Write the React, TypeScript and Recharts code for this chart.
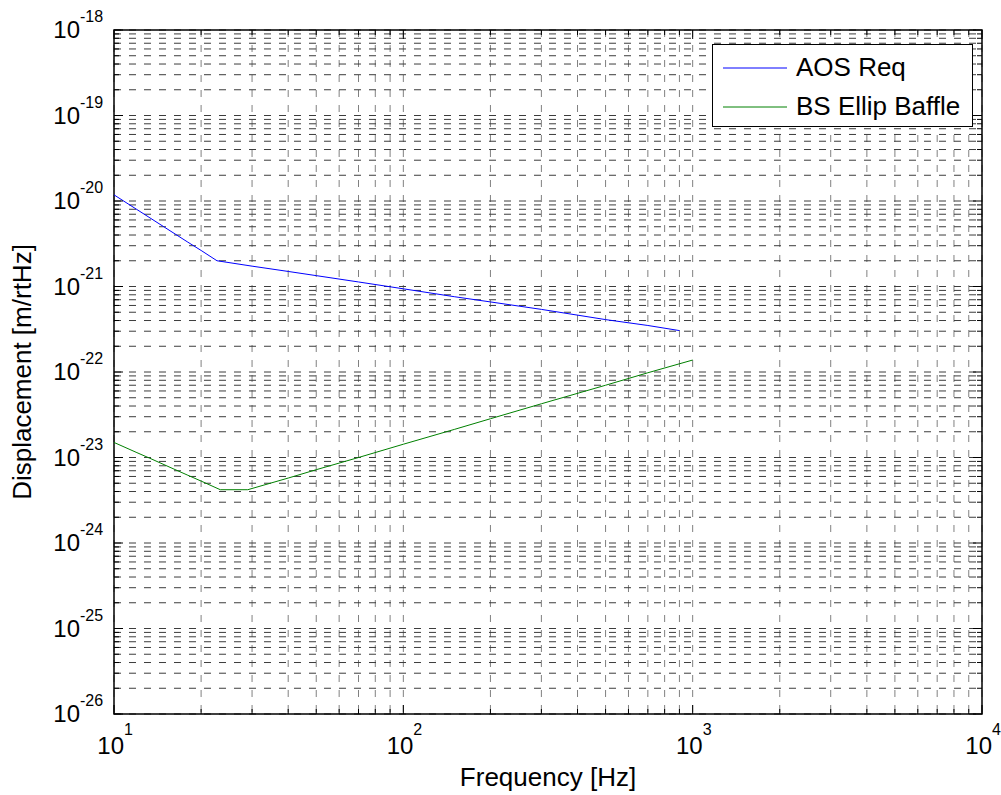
import React from 'react'
import {
  LineChart,
  Line,
  XAxis,
  YAxis,
  CartesianGrid,
  ReferenceArea,
  Legend,
  Customized,
} from 'recharts'

// AOS requirement curve
const AOS_FREQ = [10, 12, 15, 18, 20, 22.7, 30, 40, 50, 70, 100, 150, 200, 300, 500, 700, 900]
const AOS_DISP = [
  1.18e-20, 7.95e-21, 4.9e-21, 3.3e-21, 2.64e-21, 2.0e-21, 1.73e-21, 1.5e-21, 1.34e-21,
  1.13e-21, 9.4e-22, 7.6e-22, 6.6e-22, 5.4e-22, 4.1e-22, 3.5e-22, 3.05e-22,
]

// BS elliptical baffle curve
const BS_FREQ = [10, 12, 13.3, 16, 18, 20, 23.3, 29, 40, 50, 70, 100, 150, 200, 300, 500, 700, 1000]
const BS_DISP = [
  1.5e-23, 1.14e-23, 9.8e-24, 7.4e-24, 6.2e-24, 5.3e-24, 4.2e-24, 4.2e-24, 5.75e-24, 7.2e-24,
  1.0e-23, 1.43e-23, 2.13e-23, 2.84e-23, 4.25e-23, 7.0e-23, 9.8e-23, 1.38e-22,
]

const SERIES_NAMES = ['AOS Req', 'BS Ellip Baffle']
const SERIES_COLORS = ['#0000ff', '#008000']

// axis decades (exponents) and the mantissas used for minor ticks / grid
const X_EXPONENTS = [1, 2, 3, 4]
const Y_EXPONENTS = [-26, -25, -24, -23, -22, -21, -20, -19, -18]
const MANTISSAS = [1, 2, 3, 4, 5, 6, 7, 8, 9]

const X_LABEL = 'Frequency [Hz]'
const Y_LABEL = 'Displacement [m/rtHz]'

const CHART_W = 1001
const CHART_H = 795
const PLOT_LEFT = 114
const PLOT_RIGHT = 982
const PLOT_TOP = 30
const PLOT_BOTTOM = 714
const FONT = "'Liberation Sans', Arial, Helvetica, sans-serif"

function buildTicks(exps: number[]) {
  const out: number[] = []
  exps.forEach((e, i) => {
    if (i === exps.length - 1) {
      out.push(Number(`1e${e}`))
      return
    }
    for (const m of MANTISSAS) out.push(Number(`${m}e${e}`))
  })
  return out
}

const X_TICKS = buildTicks(X_EXPONENTS)
const Y_TICKS = buildTicks(Y_EXPONENTS)

const aosData = AOS_FREQ.map((f, i) => ({ f, d: AOS_DISP[i] }))
const bsData = BS_FREQ.map((f, i) => ({ f, d: BS_DISP[i] }))

function isMajor(v: number) {
  const l = Math.log10(v)
  return Math.abs(l - Math.round(l)) < 1e-9
}

function XTick(props: any) {
  const { x, payload } = props
  const v = payload.value
  const major = isMajor(v)
  const len = major ? 9 : 5
  const exp = Math.round(Math.log10(v))
  return (
    <g>
      <line x1={x} x2={x} y1={PLOT_BOTTOM} y2={PLOT_BOTTOM - len} stroke="#000" />
      <line x1={x} x2={x} y1={PLOT_TOP} y2={PLOT_TOP + len} stroke="#000" />
      {major && (
        <g fontFamily={FONT} fill="#000">
          <text x={x + 10} y={754} textAnchor="end" fontSize={24}>
            10
          </text>
          <text x={x + 10} y={735} textAnchor="start" fontSize={16}>
            {exp}
          </text>
        </g>
      )}
    </g>
  )
}

function YTick(props: any) {
  const { y, payload } = props
  const v = payload.value
  const major = isMajor(v)
  const len = major ? 9 : 5
  const exp = Math.round(Math.log10(v))
  return (
    <g>
      <line x1={PLOT_LEFT} x2={PLOT_LEFT + len} y1={y} y2={y} stroke="#000" />
      <line x1={PLOT_RIGHT} x2={PLOT_RIGHT - len} y1={y} y2={y} stroke="#000" />
      {major && (
        <g fontFamily={FONT} fill="#000">
          <text x={80} y={y + 8} textAnchor="end" fontSize={24}>
            10
          </text>
          <text x={80} y={y - 8} textAnchor="start" fontSize={16}>
            {exp}
          </text>
        </g>
      )}
    </g>
  )
}

function AxisTitles() {
  return (
    <g fontFamily={FONT} fill="#000" fontSize={26}>
      <text x={(PLOT_LEFT + PLOT_RIGHT) / 2} y={786} textAnchor="middle">
        {X_LABEL}
      </text>
      <text
        x={0}
        y={0}
        textAnchor="middle"
        transform={`translate(31, ${(PLOT_TOP + PLOT_BOTTOM) / 2}) rotate(-90)`}
      >
        {Y_LABEL}
      </text>
    </g>
  )
}

function LegendBox() {
  return (
    <div
      style={{
        width: 261,
        height: 83,
        boxSizing: 'border-box',
        border: '1px solid #000',
        background: '#fff',
        fontFamily: FONT,
        fontSize: 26,
        color: '#000',
        paddingTop: 3,
      }}
    >
      {SERIES_NAMES.map((name, i) => (
        <div
          key={name}
          style={{ display: 'flex', alignItems: 'center', height: 39, paddingLeft: 10 }}
        >
          <svg width={64} height={4} style={{ flexShrink: 0 }}>
            <line x1={0} x2={64} y1={2} y2={2} stroke={SERIES_COLORS[i]} strokeWidth={1} />
          </svg>
          <span style={{ marginLeft: 9, whiteSpace: 'nowrap' }}>{name}</span>
        </div>
      ))}
    </div>
  )
}

export default function App() {
  return (
    <div style={{ position: 'absolute', left: 0, top: 0, background: '#fff' }}>
      <LineChart
        width={CHART_W}
        height={CHART_H}
        margin={{ top: PLOT_TOP, right: CHART_W - PLOT_RIGHT, bottom: 0, left: 0 }}
      >
        <CartesianGrid
          horizontal={false}
          stroke="#808080"
          strokeDasharray="7 8"
        />
        <CartesianGrid
          vertical={false}
          stroke="#3c3c3c"
          strokeDasharray="7 8"
        />
        <XAxis
          dataKey="f"
          type="number"
          scale="log"
          domain={[10, 10000]}
          allowDataOverflow
          ticks={X_TICKS}
          interval={0}
          height={CHART_H - PLOT_BOTTOM}
          axisLine={false}
          tickLine={false}
          tick={(p: any) => <XTick {...p} />}
        />
        <YAxis
          type="number"
          scale="log"
          domain={[1e-26, 1e-18]}
          allowDataOverflow
          ticks={Y_TICKS}
          interval={0}
          width={PLOT_LEFT}
          axisLine={false}
          tickLine={false}
          tick={(p: any) => <YTick {...p} />}
        />
        <ReferenceArea
          x1={10}
          x2={10000}
          y1={1e-26}
          y2={1e-18}
          fill="none"
          fillOpacity={0}
          stroke="#000"
          strokeWidth={1.5}
          ifOverflow="visible"
        />
        <Line
          data={aosData}
          dataKey="d"
          name={SERIES_NAMES[0]}
          stroke={SERIES_COLORS[0]}
          strokeWidth={1}
          dot={false}
          isAnimationActive={false}
        />
        <Line
          data={bsData}
          dataKey="d"
          name={SERIES_NAMES[1]}
          stroke={SERIES_COLORS[1]}
          strokeWidth={1}
          dot={false}
          isAnimationActive={false}
        />
        <Legend
          layout="vertical"
          align="center"
          verticalAlign="middle"
          wrapperStyle={{ left: 712, top: 44, width: 261, height: 83 }}
          content={() => <LegendBox />}
        />
        <Customized component={<AxisTitles />} />
      </LineChart>
    </div>
  )
}
